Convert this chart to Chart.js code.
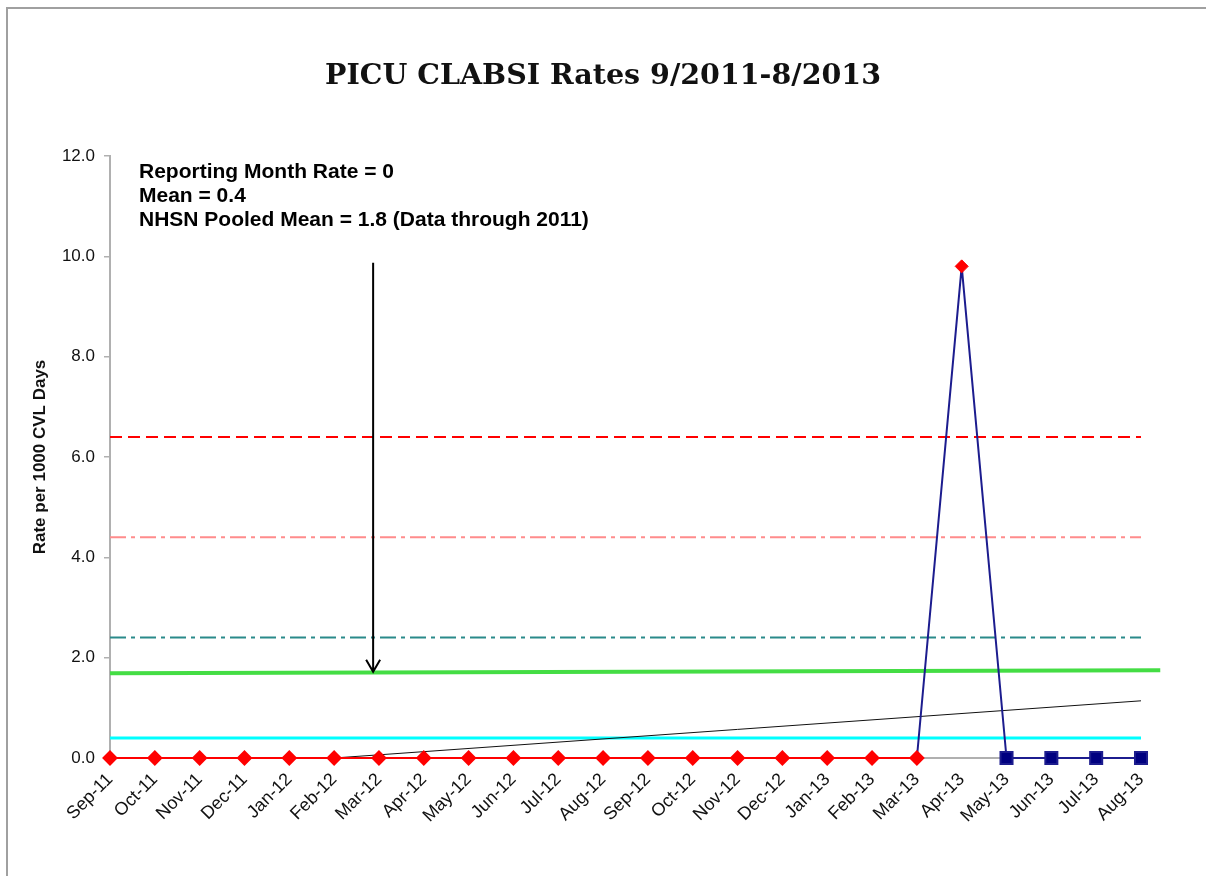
<!DOCTYPE html>
<html>
<head>
<meta charset="utf-8">
<script src="https://cdn.jsdelivr.net/npm/chart.js@4.4.0/dist/chart.umd.min.js"></script>
<style>
  body { margin: 0; background: #fff; }
  #wrap { position: relative; width: 1206px; height: 876px; }
  #frame { position: absolute; left: 6px; top: 7px; right: 0; bottom: 0;
           border-left: 2px solid #a0a0a0; border-top: 2px solid #a0a0a0; }
</style>
</head>
<body>
<div id="wrap">
  <div id="frame"></div>
  <canvas id="myChart" width="1206" height="876"></canvas>
</div>
<script>
var months = ['Sep-11', 'Oct-11', 'Nov-11', 'Dec-11', 'Jan-12', 'Feb-12', 'Mar-12', 'Apr-12',
  'May-12', 'Jun-12', 'Jul-12', 'Aug-12', 'Sep-12', 'Oct-12', 'Nov-12', 'Dec-12',
  'Jan-13', 'Feb-13', 'Mar-13', 'Apr-13', 'May-13', 'Jun-13', 'Jul-13', 'Aug-13'];
var rates = [0, 0, 0, 0, 0, 0, 0, 0, 0, 0, 0, 0, 0, 0, 0, 0, 0, 0, 0, 9.8, 0, 0, 0, 0];
var yTicks = [0, 2, 4, 6, 8, 10, 12];

var ucl = 6.4;         // red dashed
var warnLimit = 4.4;   // pink dash-dot
var upperSigma = 2.4;  // teal dash-dot
var mean = 0.4;        // cyan
var nhsnLine = [1.69, 1.75];   // green, runs a bit past the last month
var trendLine = [0, 1.14];     // black thin, Feb-12 .. Aug-13
var lastRed = 18;      // Mar-13
var arrowPoint = { x: 5.87, top: 9.87, bottom: 1.72 };
var chartTitle = 'PICU CLABSI Rates 9/2011-8/2013';
var notes = ['Reporting Month Rate = 0', 'Mean = 0.4', 'NHSN Pooled Mean = 1.8 (Data through 2011)'];

var n = months.length - 1;
function flat(v) { return [{ x: 0, y: v }, { x: n, y: v }]; }

var redPts = [], navyPts = [];
rates.forEach(function (v, i) {
  if (i <= lastRed) redPts.push({ x: i, y: v });
  if (i >= lastRed) navyPts.push({ x: i, y: v });
});
var flagPts = [{ x: 19, y: rates[19] }];

var extras = {
  id: 'extras',
  afterDraw: function (chart) {
    var c = chart.ctx, xs = chart.scales.x, ys = chart.scales.y;
    c.save();
    // title
    c.fillStyle = '#111';
    c.textAlign = 'center';
    c.textBaseline = 'middle';
    c.font = 'bold 28.5px "DejaVu Serif", serif';
    c.fillText(chartTitle, 603, 77);
    // arrow
    var ax = xs.getPixelForValue(arrowPoint.x);
    var y1 = ys.getPixelForValue(arrowPoint.top), y2 = ys.getPixelForValue(arrowPoint.bottom);
    c.strokeStyle = '#000';
    c.lineWidth = 2;
    c.beginPath();
    c.moveTo(ax, y1); c.lineTo(ax, y2);
    c.moveTo(ax - 7, y2 - 12); c.lineTo(ax, y2); c.lineTo(ax + 7, y2 - 12);
    c.stroke();
    // notes
    c.fillStyle = '#000';
    c.textAlign = 'left';
    c.font = 'bold 21px "Liberation Sans", Arial, sans-serif';
    notes.forEach(function (t, i) { c.fillText(t, 139, 172 + i * 24); });
    c.restore();
  }
};

var ctx1 = document.getElementById('myChart').getContext('2d');
var myChart = new Chart(ctx1, {
  type: 'line',
  data: {
    datasets: [
      { data: redPts, borderColor: '#ff0000', backgroundColor: '#ff0000', borderWidth: 2,
        pointStyle: 'rectRot', pointRadius: 6.5, clip: false, order: 1 },
      { data: flagPts, showLine: false, borderColor: '#ff0000', backgroundColor: '#ff0000',
        pointStyle: 'rectRot', pointRadius: 6.5, clip: false, order: 1 },
      { data: navyPts, borderColor: '#1c1c8e', backgroundColor: '#000080', borderWidth: 2,
        pointStyle: 'rect', pointRadius: navyPts.map(function (p) { return p.x > 19 ? 8.5 : 0; }),
        clip: false, order: 2 },
      { data: flat(ucl), borderColor: '#ff0000', borderWidth: 2, borderDash: [12, 6], pointRadius: 0, order: 5 },
      { data: flat(warnLimit), borderColor: '#ff8c8c', borderWidth: 2, borderDash: [16, 5, 4, 5], pointRadius: 0, order: 5 },
      { data: flat(upperSigma), borderColor: '#2a8a8a', borderWidth: 2, borderDash: [16, 5, 4, 5], pointRadius: 0, order: 5 },
      { data: [{ x: 0, y: nhsnLine[0] }, { x: n + 0.43, y: nhsnLine[1] }], borderColor: '#44dd44',
        borderWidth: 4, pointRadius: 0, clip: false, order: 5 },
      { data: flat(mean), borderColor: '#00ffff', borderWidth: 3, pointRadius: 0, order: 5 },
      { data: [{ x: 5, y: trendLine[0] }, { x: n, y: trendLine[1] }], borderColor: '#111',
        borderWidth: 1, pointRadius: 0, order: 4 }
    ]
  },
  options: {
    responsive: false,
    animation: false,
    layout: { padding: { left: 0, right: 65, top: 156, bottom: 0 } },
    plugins: {
      legend: { display: false },
      tooltip: { enabled: false },
      title: { display: false }
    },
    scales: {
      x: {
        type: 'linear', min: 0, max: n,
        grid: { display: false },
        border: { color: '#b0b0b0', width: 2 },
        ticks: {
          stepSize: 1, autoSkip: false, maxRotation: 45, minRotation: 45,
          color: '#111', font: { family: '"Liberation Sans", Arial', size: 18 },
          callback: function (v) { return months[v]; }
        },
        afterFit: function (s) { s.height = 876 - 758; }
      },
      y: {
        min: 0, max: 12,
        afterBuildTicks: function (s) { s.ticks = yTicks.map(function (v) { return { value: v }; }); },
        grid: { display: true, drawOnChartArea: false, drawTicks: true, tickLength: 6, color: '#b0b0b0', lineWidth: 1.5 },
        border: { color: '#b0b0b0', width: 2 },
        ticks: {
          color: '#111', padding: 9, font: { family: '"Liberation Sans", Arial', size: 17 },
          callback: function (v) { return v.toFixed(1); }
        },
        title: {
          display: true, text: 'Rate per 1000 CVL Days', color: '#111',
          padding: { top: 30, bottom: 0 },
          font: { family: '"Liberation Sans", Arial', weight: 'bold', size: 17 }
        },
        afterFit: function (s) { s.width = 110; }
      }
    }
  },
  plugins: [extras]
});
</script>
</body>
</html>
